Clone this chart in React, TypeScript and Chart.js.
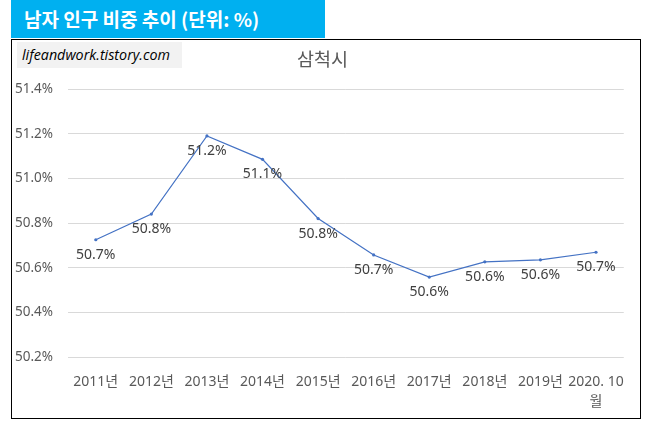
import React, { useEffect, useRef } from "react";
import { Chart, registerables } from "chart.js";

Chart.register(...registerables);

const categories: (string | string[])[] = [
  "2011년", "2012년", "2013년", "2014년", "2015년",
  "2016년", "2017년", "2018년", "2019년", ["2020. 10", "월"],
];
const maleShare: number[] = [
  50.725, 50.84, 51.19, 51.085, 50.82, 50.657, 50.558, 50.626, 50.635, 50.669,
];
const yTickMin = 50.2;
const yTickMax = 51.4;
const yTickStep = 0.2;

const headerText = "남자 인구 비중 추이 (단위: %)";
const chartTitle = "삼척시";
const watermark = "lifeandwork.tistory.com";

const FONT = "'Noto Sans', 'Noto Sans CJK KR', sans-serif";

const dataLabelPlugin = {
  id: "belowLabels",
  afterDatasetsDraw(chart: any) {
    const ctx = chart.ctx;
    const meta = chart.getDatasetMeta(0);
    const values = chart.data.datasets[0].data as number[];
    ctx.save();
    ctx.font = `14px ${FONT}`;
    ctx.fillStyle = "#404040";
    ctx.textAlign = "center";
    ctx.textBaseline = "middle";
    meta.data.forEach((pt: any, i: number) => {
      ctx.fillText(values[i].toFixed(1) + "%", pt.x, pt.y + 15);
    });
    ctx.restore();
  },
};

function LineChart() {
  const ref = useRef<HTMLCanvasElement>(null);
  useEffect(() => {
    if (!ref.current) return;
    const chart = new Chart(ref.current, {
      type: "line",
      data: {
        labels: categories as any,
        datasets: [
          {
            data: maleShare,
            borderColor: "#4472C4",
            backgroundColor: "#4472C4",
            borderWidth: 1.2,
            pointRadius: 1.6,
            pointHoverRadius: 1.6,
            pointBorderWidth: 0,
            tension: 0,
          },
        ],
      },
      options: {
        animation: false,
        responsive: false,
        maintainAspectRatio: false,
        layout: { padding: { left: 0, right: 6, top: 0, bottom: 0 } },
        plugins: {
          legend: { display: false },
          tooltip: { enabled: false },
          title: {
            display: true,
            text: chartTitle,
            color: "#595959",
            font: { family: FONT, size: 18.5, weight: "normal" as any, lineHeight: 1.2 },
            padding: { top: 10, bottom: 16.8 },
          },
        },
        scales: {
          x: {
            offset: true,
            grid: { display: false, drawTicks: false },
            border: { display: false },
            ticks: {
              color: "#595959",
              font: { family: FONT, size: 14, lineHeight: 1.45 },
              padding: 15,
              maxRotation: 0,
              autoSkip: false,
            },
            afterFit: (s: any) => {
              s.height = 60;
            },
          },
          y: {
            min: yTickMin,
            max: yTickMax,
            grid: { color: "#d9d9d9", lineWidth: 1, drawTicks: false },
            border: { display: false },
            ticks: {
              stepSize: yTickStep,
              color: "#595959",
              font: { family: FONT, size: 13.5 },
              padding: 15,
              callback: (v: any) => Number(v).toFixed(1) + "%",
            },
            afterFit: (s: any) => {
              s.width = 56;
            },
          },
        },
      },
      plugins: [dataLabelPlugin],
    });
    return () => chart.destroy();
  }, []);
  return (
    <canvas
      ref={ref}
      width={627}
      height={377}
      style={{ position: "absolute", left: 12, top: 40, width: 627, height: 377 }}
    />
  );
}

export default function App() {
  useEffect(() => {
    document.body.style.margin = "0";
  }, []);
  return (
    <div style={{ position: "relative", width: 646, height: 421, background: "#fff", overflow: "hidden" }}>
      <div
        style={{
          position: "absolute",
          left: 11,
          top: 0,
          width: 314,
          height: 38,
          background: "#00B0F0",
          color: "#fff",
          fontFamily: "'Noto Sans CJK KR', sans-serif",
          fontWeight: 700,
          fontSize: 19,
          lineHeight: "38px",
          paddingLeft: 13,
          boxSizing: "border-box",
          whiteSpace: "nowrap",
        }}
      >
        {headerText}
      </div>
      <div
        style={{
          position: "absolute",
          left: 11,
          top: 39,
          width: 630,
          height: 380,
          border: "1px solid #000",
          boxSizing: "border-box",
        }}
      />
      <LineChart />
      <div
        style={{
          position: "absolute",
          left: 17,
          top: 42,
          width: 165,
          height: 26,
          background: "#f2f2f2",
          fontFamily: "'Open Sans', sans-serif",
          fontStyle: "italic",
          fontSize: 14.3,
          lineHeight: "26px",
          paddingLeft: 5,
          boxSizing: "border-box",
          color: "#000",
          whiteSpace: "nowrap",
          zIndex: 2,
        }}
      >
        {watermark}
      </div>
    </div>
  );
}
